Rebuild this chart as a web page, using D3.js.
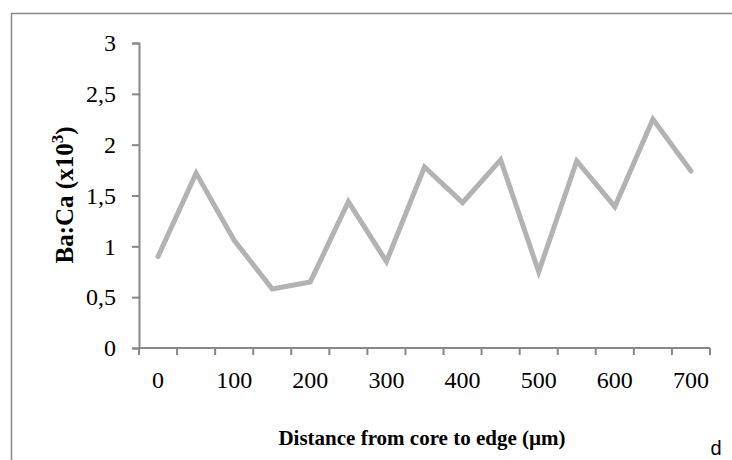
<!DOCTYPE html>
<html lang="en">
<head>
    <meta charset="UTF-8">
    <title>Ba:Ca profile</title>
    <script src="https://d3js.org/d3.v7.min.js"></script>
    <style>
        body { margin: 0; background: #fff; }
    </style>
</head>
<body>
<script>
    const distances = [0, 50, 100, 150, 200, 250, 300, 350, 400, 450, 500, 550, 600, 650, 700];
    const baCa = [0.90, 1.72, 1.06, 0.58, 0.65, 1.44, 0.85, 1.78, 1.43, 1.85, 0.75, 1.84, 1.39, 2.25, 1.74];
    const yTicks = [0, 0.5, 1, 1.5, 2, 2.5, 3];
    const xLabels = [0, 100, 200, 300, 400, 500, 600, 700];

    const width = 732;
    const height = 460;
    const axisColor = "#888";
    const serif = "'Liberation Serif', 'Times New Roman', serif";

    const svg = d3.select("body").append("svg")
        .attr("width", width)
        .attr("height", height);

    // outer chart frame, runs off the right and bottom edges
    svg.append("rect")
        .attr("x", 11.5).attr("y", 13.5)
        .attr("width", 740).attr("height", 470)
        .attr("fill", "none")
        .attr("stroke", axisColor)
        .attr("stroke-width", 1.5);

    const xScale = d3.scaleBand()
        .domain(distances)
        .range([139, 710])
        .paddingInner(0).paddingOuter(0);

    const yScale = d3.scaleLinear()
        .domain([0, 3])
        .range([348, 43]);

    // y axis
    const yAxis = svg.append("g")
        .attr("transform", "translate(139,0)")
        .call(d3.axisLeft(yScale)
            .tickValues(yTicks)
            .tickSize(7)
            .tickPadding(16)
            .tickFormat(d => String(d).replace(".", ",")));
    yAxis.select(".domain").attr("stroke", axisColor).attr("stroke-width", 2);
    yAxis.selectAll(".tick line").attr("stroke", axisColor).attr("stroke-width", 2);
    yAxis.selectAll("text")
        .attr("fill", "#000")
        .style("font-family", serif)
        .style("font-size", "24px");

    // x axis: ticks at category boundaries, labels every other category
    const boundaries = distances.map(d => xScale(d)).concat([xScale.range()[1]]);
    const xg = svg.append("g");
    xg.append("line")
        .attr("x1", 139).attr("x2", 710)
        .attr("y1", yScale(0)).attr("y2", yScale(0))
        .attr("stroke", axisColor).attr("stroke-width", 2);
    xg.selectAll(".xtick")
        .data(boundaries)
        .join("line")
        .attr("class", "xtick")
        .attr("x1", d => d).attr("x2", d => d)
        .attr("y1", yScale(0)).attr("y2", yScale(0) + 7)
        .attr("stroke", axisColor).attr("stroke-width", 2);
    xg.selectAll(".xlabel")
        .data(xLabels)
        .join("text")
        .attr("class", "xlabel")
        .attr("x", d => xScale(d) + xScale.bandwidth() / 2)
        .attr("y", 388)
        .attr("text-anchor", "middle")
        .style("font-family", serif)
        .style("font-size", "24px")
        .text(d => d);

    // the series
    const line = d3.line()
        .x((d, i) => xScale(distances[i]) + xScale.bandwidth() / 2)
        .y(d => yScale(d));

    svg.append("path")
        .datum(baCa)
        .attr("fill", "none")
        .attr("stroke", "#b3b3b3")
        .attr("stroke-width", 5)
        .attr("stroke-linejoin", "miter")
        .attr("stroke-linecap", "round")
        .attr("d", line);

    // axis titles
    const yTitle = svg.append("text")
        .attr("transform", "translate(73,195) rotate(-90)")
        .attr("text-anchor", "middle")
        .style("font-family", serif)
        .style("font-weight", "bold")
        .style("font-size", "25px");
    yTitle.append("tspan").text("Ba:Ca (x10");
    yTitle.append("tspan").attr("dy", -10).style("font-size", "17px").text("3");
    yTitle.append("tspan").attr("dy", 10).text(")");

    svg.append("text")
        .attr("x", 422).attr("y", 445)
        .attr("text-anchor", "middle")
        .style("font-family", serif)
        .style("font-weight", "bold")
        .style("font-size", "21px")
        .text("Distance from core to edge (µm)");

    svg.append("text")
        .attr("x", 716).attr("y", 455)
        .attr("text-anchor", "middle")
        .style("font-family", "'Liberation Sans', Arial, sans-serif")
        .style("font-size", "20px")
        .text("d");
</script>
</body>
</html>
